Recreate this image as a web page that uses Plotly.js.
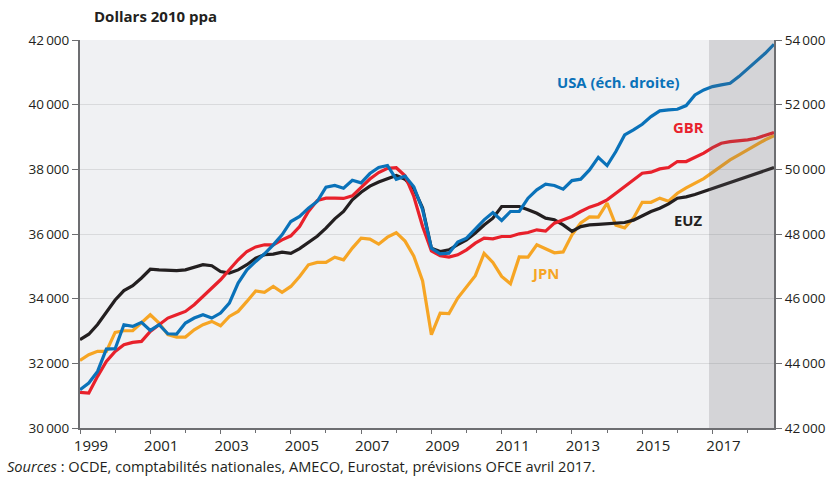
<!DOCTYPE html>
<html>
<head>
<meta charset="utf-8">
<script src="https://cdn.plot.ly/plotly-3.0.1.min.js"></script>
<style>html,body{margin:0;padding:0;background:#fff;}#chart{width:831px;height:478px;}</style>
</head>
<body>
<div id="chart"></div>
<script>
// Quarterly data, 1999Q1 .. 2018Q4 (80 quarters)
const startYear = 1999;
const nQuarters = 80;

// GDP per capita, dollars 2010 ppa
const EUZ = [32730,32900,33200,33600,33960,34250,34400,34640,34910,34890,
  34870,34870,34890,34970,35050,35020,34840,34790,34890,35050,
  35250,35360,35380,35440,35400,35550,35740,35930,36180,36470,
  36700,37056,37290,37480,37610,37700,37810,37695,37400,36800,
  35560,35460,35510,35670,35820,36030,36280,36490,36850,36850,
  36850,36750,36640,36490,36440,36280,36080,36230,36280,36300,
  36315,36325,36356,36428,36572,36696,36799,36933,37108,37149,
  37221,37314,37417,37520,37612,37705,37788,37870,37963,38056];

const GBR = [31103,31082,31597,32060,32370,32575,32648,32678,32988,33194,
  33400,33503,33606,33812,34069,34327,34584,34893,35202,35460,
  35600,35666,35666,35820,35944,36232,36696,37035,37108,37108,
  37100,37180,37440,37700,37900,38030,38050,37800,37160,36230,
  35480,35326,35284,35357,35511,35717,35872,35851,35923,35923,
  36005,36047,36129,36088,36335,36438,36541,36696,36830,36920,
  37057,37263,37469,37705,37880,37911,38014,38056,38241,38241,
  38365,38499,38674,38808,38859,38880,38911,38962,39045,39137];

const JPN = [32091,32266,32370,32370,32957,33008,33008,33245,33503,33245,
  32885,32812,32812,33039,33194,33297,33163,33451,33606,33915,
  34240,34193,34378,34193,34378,34687,35048,35120,35120,35284,
  35202,35563,35872,35841,35686,35903,36040,35780,35315,34550,
  32885,33554,33540,34018,34378,34710,35400,35120,34687,34461,
  35290,35284,35666,35532,35420,35445,35975,36340,36530,36520,
  36953,36270,36190,36490,36980,36980,37108,37015,37262,37427,
  37582,37715,37905,38110,38292,38447,38612,38766,38915,39040];

// USA on right-hand scale
const USA = [43185,43391,43751,44442,44452,45194,45142,45266,45018,45194,
  44915,44905,45245,45400,45503,45400,45554,45863,46481,46893,
  47151,47388,47666,47975,48387,48541,48799,49005,49448,49500,
  49417,49660,49580,49870,50060,50120,49695,49790,49460,48750,
  47560,47387,47408,47750,47872,48160,48438,48665,48420,48696,
  48696,49108,49365,49540,49499,49386,49653,49695,49983,50370,
  50117,50550,51065,51220,51395,51632,51807,51838,51858,51971,
  52301,52456,52559,52610,52662,52868,53104,53331,53589,53867];

const leftTicks = [30000,32000,34000,36000,38000,40000,42000];
const rightTicks = [42000,44000,46000,48000,50000,52000,54000];
const yearTicks = [1999,2001,2003,2005,2007,2009,2011,2013,2015,2017];
const forecastStart = 2016.9;

const fmt = v => String(v).replace(/(\d+)(\d{3})$/, '$1\u2009$2');
const x = Array.from({length: nQuarters}, (_, i) => startYear + i / 4);
const xEnd = x[x.length - 1];

const FONT = '"Open Sans", "Noto Sans", sans-serif';
const C = {usa:'#0a72b9', gbr:'#e8212b', euz:'#231f20', jpn:'#f6a524'};
const lw = 3.2;

const traces = [
  {x, y: JPN, mode:'lines', line:{color:C.jpn, width:lw}, yaxis:'y', hoverinfo:'skip'},
  {x, y: EUZ, mode:'lines', line:{color:C.euz, width:lw}, yaxis:'y', hoverinfo:'skip'},
  {x, y: GBR, mode:'lines', line:{color:C.gbr, width:lw}, yaxis:'y', hoverinfo:'skip'},
  {x, y: USA, mode:'lines', line:{color:C.usa, width:lw}, yaxis:'y2', hoverinfo:'skip'}
];

const axisColor = '#6d6e71';
const layout = {
  width: 831, height: 478,
  margin: {l:80, r:57, t:40, b:50, pad:0},
  paper_bgcolor:'#ffffff', plot_bgcolor:'#f0f1f3',
  showlegend:false,
  font:{family:FONT, color:'#231f20'},
  xaxis:{
    range:[startYear, xEnd], showgrid:false, zeroline:false,
    showline:true, linecolor:axisColor, linewidth:2,
    tickvals: yearTicks, ticktext: yearTicks.map(String),
    ticks:'outside', ticklen:4, tickwidth:1, tickcolor:axisColor,
    ticklabelshift: 11, ticklabelstandoff: -1,
    minor:{dtick:1, tick0:1999, ticks:'outside', ticklen:3, tickcolor:axisColor, showgrid:false},
    tickfont:{size:15, family:FONT, color:'#231f20'}
  },
  yaxis:{
    range:[30000, 42000], showgrid:true, gridcolor:'#d9dadc', gridwidth:1,
    zeroline:false, showline:true, linecolor:axisColor, linewidth:2,
    tickvals: leftTicks, ticktext: leftTicks.map(fmt),
    ticks:'outside', ticklen:6, tickcolor:axisColor, tickwidth:1,
    tickfont:{size:13.5, family:FONT, color:'#231f20'}
  },
  yaxis2:{
    overlaying:'y', side:'right', range:[42000, 54000], showgrid:false,
    zeroline:false, showline:true, linecolor:axisColor, linewidth:2,
    tickvals: rightTicks, ticktext: rightTicks.map(fmt),
    ticks:'outside', ticklen:6, tickcolor:axisColor, tickwidth:1,
    tickfont:{size:13.5, family:FONT, color:'#231f20'}
  },
  shapes:[
    {type:'rect', xref:'x', yref:'paper', x0:forecastStart, x1:xEnd, y0:0, y1:1,
     fillcolor:'rgba(100,100,106,0.2)', line:{width:0}, layer:'above'}
  ],
  annotations:[
    {text:'<b>Dollars 2010 ppa</b>', xref:'paper', yref:'paper', x:0.017, y:1.062,
     xanchor:'left', yanchor:'middle', showarrow:false, font:{size:15, family:FONT, color:'#231f20'}},
    {text:'<i>Sources</i> : OCDE, comptabilités nationales, AMECO, Eurostat, prévisions OFCE avril 2017.',
     xref:'paper', yref:'paper', x:-0.108, y:-0.099, xanchor:'left', yanchor:'middle',
     showarrow:false, font:{size:14.6, family:FONT, color:'#231f20'}},
    {text:'<b>USA (éch. droite)</b>', xref:'x', yref:'y', x:2014.32, y:40700, showarrow:false,
     xanchor:'center', yanchor:'middle', font:{size:14.8, family:FONT, color:C.usa}},
    {text:'<b>GBR</b>', xref:'x', yref:'y', x:2016.32, y:39310, showarrow:false,
     xanchor:'center', yanchor:'middle', font:{size:14.8, family:FONT, color:C.gbr}},
    {text:'<b>EUZ</b>', xref:'x', yref:'y', x:2016.29, y:36433, showarrow:false,
     xanchor:'center', yanchor:'middle', font:{size:14.8, family:FONT, color:C.euz}},
    {text:'<b>JPN</b>', xref:'x', yref:'y', x:2012.24, y:34793, showarrow:false,
     xanchor:'center', yanchor:'middle', font:{size:14.8, family:FONT, color:C.jpn}}
  ]
};

Plotly.newPlot('chart', traces, layout, {displayModeBar:false, staticPlot:true});
</script>
</body>
</html>
